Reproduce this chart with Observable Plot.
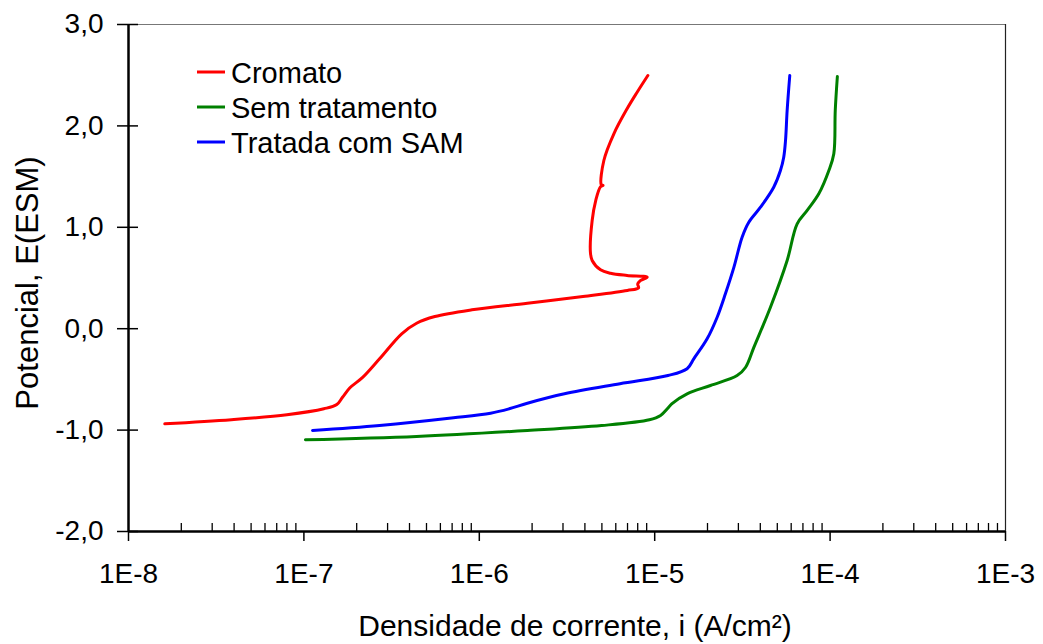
<!DOCTYPE html>
<html>
<head>
<meta charset="utf-8">
<script src="https://cdn.jsdelivr.net/npm/d3@7"></script>
<script src="https://cdn.jsdelivr.net/npm/@observablehq/plot@0.6"></script>
<style>
  body { margin: 0; background: #fff; }
  #chart { width: 1043px; height: 644px; }
  svg { font-family: "Liberation Sans", Arial, sans-serif; }
</style>
</head>
<body>
<div id="chart"></div>
<script>
// ---- data ----
const seriesNames = ["Cromato", "Sem tratamento", "Tratada com SAM"];
const seriesColors = ["#ff0000", "#008000", "#0000ff"];

// Cromato (red): current density (A/cm2) and potential (V)
const cromatoI = [1.61e-8, 3.86e-8, 8.0e-8, 1.30e-7, 1.54e-7, 1.66e-7, 1.83e-7, 2.17e-7, 2.70e-7, 3.61e-7, 4.39e-7, 5.58e-7, 9.08e-7, 1.88e-6, 3.90e-6, 6.98e-6, 8.09e-6, 8.0e-6, 8.28e-6, 9.06e-6, 6.96e-6, 5.60e-6, 4.91e-6, 4.40e-6, 4.30e-6, 4.40e-6, 4.61e-6, 4.91e-6, 5.08e-6, 4.96e-6, 5.13e-6, 5.85e-6, 6.96e-6, 7.94e-6, 9.14e-6];
const cromatoE = [-0.938, -0.898, -0.849, -0.790, -0.748, -0.676, -0.583, -0.478, -0.297, -0.050, 0.054, 0.120, 0.186, 0.251, 0.318, 0.377, 0.403, 0.440, 0.475, 0.508, 0.525, 0.547, 0.581, 0.673, 0.754, 1.067, 1.264, 1.400, 1.412, 1.420, 1.659, 1.922, 2.169, 2.332, 2.497];

// Sem tratamento (green)
const semI = [1.02e-7, 4.39e-7, 1.88e-6, 4.98e-6, 9.33e-6, 1.08e-5, 1.18e-5, 1.25e-5, 1.53e-5, 2.08e-5, 2.95e-5, 3.30e-5, 3.68e-5, 4.57e-5, 5.69e-5, 6.49e-5, 7.40e-5, 8.62e-5, 9.84e-5, 1.05e-4, 1.07e-4, 1.10e-4];
const semE = [-1.096, -1.063, -1.004, -0.955, -0.898, -0.856, -0.790, -0.741, -0.642, -0.560, -0.462, -0.380, -0.182, 0.212, 0.673, 1.034, 1.166, 1.330, 1.560, 1.725, 2.152, 2.487];

// Tratada com SAM (blue)
const samI = [1.12e-7, 2.70e-7, 7.13e-7, 1.16e-6, 1.48e-6, 1.88e-6, 3.06e-6, 6.34e-6, 1.19e-5, 1.53e-5, 1.67e-5, 1.99e-5, 2.27e-5, 2.53e-5, 2.83e-5, 3.15e-5, 3.44e-5, 4.01e-5, 4.77e-5, 5.21e-5, 5.44e-5, 5.57e-5, 5.69e-5, 5.89e-5];
const samE = [-1.004, -0.955, -0.879, -0.833, -0.790, -0.735, -0.642, -0.543, -0.462, -0.395, -0.297, -0.100, 0.113, 0.344, 0.607, 0.902, 1.050, 1.198, 1.395, 1.560, 1.691, 1.856, 2.152, 2.497];

const xTicks = [1e-8, 1e-7, 1e-6, 1e-5, 1e-4, 1e-3];
const xTickLabels = ["1E-8", "1E-7", "1E-6", "1E-5", "1E-4", "1E-3"];
const yTicks = [-2, -1, 0, 1, 2, 3];
const yTickLabels = ["-2,0", "-1,0", "0,0", "1,0", "2,0", "3,0"];
const xTitle = "Densidade de corrente, i (A/cm²)";
const yTitle = "Potencial, E(ESM)";

// ---- build table ----
const allI = [cromatoI, semI, samI];
const allE = [cromatoE, semE, samE];
const rows = seriesNames.flatMap((s, k) => allI[k].map((v, j) => ({s, i: v, E: allE[k][j]})));
const minorTicks = [];
for (let e = -8; e < -3; e++) for (let m = 2; m <= 9; m++) minorTicks.push(m * Math.pow(10, e));

const font = "Liberation Sans, Arial, sans-serif";

const chart = Plot.plot({
  width: 1043,
  height: 644,
  marginLeft: 128,
  marginRight: 38,
  marginTop: 24,
  marginBottom: 113,
  style: {fontFamily: font, background: "#fff", color: "#000"},
  x: {type: "log", domain: [1e-8, 1e-3]},
  y: {domain: [-2, 3]},
  color: {domain: seriesNames, range: seriesColors},
  marks: [
    // frame top/right
    Plot.ruleY([3], {stroke: "#777", strokeWidth: 1}),
    Plot.ruleX([1e-3], {stroke: "#222", strokeWidth: 1.2}),
    // minor x ticks (inward)
    Plot.axisX(minorTicks, {anchor: "bottom", tickSize: 8, dy: -8, tickFormat: () => "", label: null, strokeWidth: 1.3}),
    // major x ticks + labels
    Plot.axisX(xTicks, {anchor: "bottom", tickSize: 10, tickPadding: 22, tickFormat: d => xTickLabels[xTicks.indexOf(d)], label: null, fontSize: 28, strokeWidth: 1.5}),
    // y ticks crossing the axis
    Plot.axisY(yTicks, {anchor: "left", tickSize: 11, tickPadding: 14, tickFormat: d => yTickLabels[yTicks.indexOf(d)], label: null, fontSize: 28, strokeWidth: 1.5}),
    Plot.axisY(yTicks, {anchor: "left", tickSize: 10, dx: 10, tickFormat: () => "", label: null, strokeWidth: 1.5}),
    // axis lines
    Plot.ruleX([1e-8], {stroke: "#000", strokeWidth: 2.5}),
    Plot.ruleY([-2], {stroke: "#000", strokeWidth: 2.5}),
    // curves
    Plot.line(rows, {x: "i", y: "E", z: "s", stroke: "s", strokeWidth: 3, curve: "catmull-rom"}),
    // axis titles
    Plot.text([xTitle], {frameAnchor: "bottom", text: d => d, textAnchor: "middle", lineAnchor: "middle", dy: 95, dx: 8, fontSize: 30, fill: "#000"}),
    Plot.text([yTitle], {frameAnchor: "left", text: d => d, textAnchor: "middle", lineAnchor: "middle", rotate: -90, dx: -100, dy: 5, fontSize: 31, fill: "#000"})
  ]
});

// legend inside the plot area (top-left)
const svg = d3.select(chart);
const lg = svg.append("g").attr("font-family", font).attr("font-size", 29).attr("text-anchor", "start");
seriesNames.forEach((name, k) => {
  const cy = 72 + k * 35;
  lg.append("line").attr("x1", 197).attr("x2", 225).attr("y1", cy).attr("y2", cy)
    .attr("stroke", seriesColors[k]).attr("stroke-width", 3);
  lg.append("text").attr("x", 231).attr("y", cy + 10.5).attr("fill", "#000").attr("text-anchor", "start").text(name);
});

document.getElementById("chart").appendChild(chart);
</script>
</body>
</html>
